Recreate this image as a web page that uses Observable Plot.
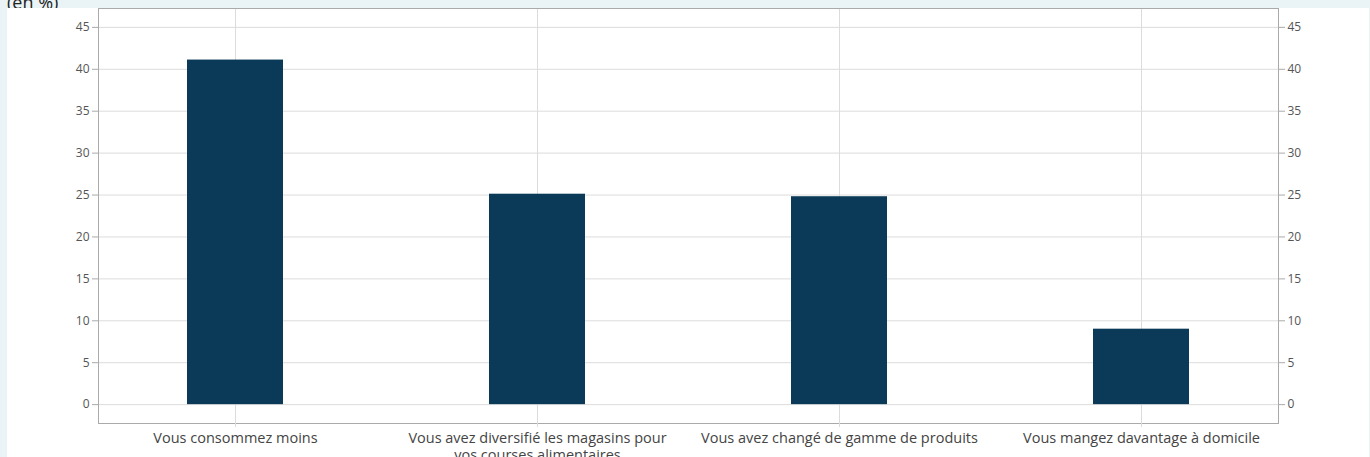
<!DOCTYPE html>
<html>
<head>
<meta charset="utf-8">
<script src="https://cdn.jsdelivr.net/npm/d3@7"></script>
<script src="https://cdn.jsdelivr.net/npm/@observablehq/plot@0.6"></script>
<style>
  html, body { margin: 0; padding: 0; background: #eaf4f7; overflow: hidden; }
  #unit { position: absolute; left: 7px; top: -7px; font: 18px "Open Sans", sans-serif; line-height: 18px; color: #222; }
  #panel { position: absolute; left: 7px; top: 8px; width: 1362px; height: 449px; background: #fff; overflow: hidden; }
</style>
</head>
<body>
<div id="unit">(en %)</div>
<div id="panel"></div>
<script>
const categories = [
  "Vous consommez moins",
  "Vous avez diversifié les magasins pour\nvos courses alimentaires",
  "Vous avez changé de gamme de produits",
  "Vous mangez davantage à domicile"
];
const values = [41.1, 25.1, 24.8, 9.0];
const yTicks = [0, 5, 10, 15, 20, 25, 30, 35, 40, 45];

const data = categories.map((c, i) => ({category: c, value: values[i]}));

const chart = Plot.plot({
  width: 1362,
  height: 449,
  marginLeft: 91,
  marginRight: 91,
  marginTop: 0,
  marginBottom: 34,
  style: {fontFamily: "'Open Sans', sans-serif", background: "transparent"},
  x: {domain: categories, paddingInner: 0.683, paddingOuter: 0.29, label: null},
  y: {domain: [-2.25, 47.25], label: null},
  marks: [
    Plot.gridY(yTicks, {stroke: "#dcdcdc", strokeOpacity: 1, strokeWidth: 1}),
    Plot.gridX({stroke: "#dcdcdc", strokeOpacity: 1, strokeWidth: 1}),
    Plot.barY(data, {x: "category", y: "value", fill: "#0b3a58"}),
    Plot.frame({stroke: "#aaaaaa", strokeWidth: 1}),
    Plot.axisY(yTicks, {anchor: "left", tickSize: 6, tickPadding: 3, stroke: "#aaaaaa", fill: "#555", fontSize: 12, label: null}),
    Plot.axisY(yTicks, {anchor: "right", tickSize: 6, tickPadding: 3, stroke: "#aaaaaa", fill: "#555", fontSize: 12, label: null}),
    Plot.axisX({anchor: "bottom", tickSize: 4, tickPadding: 3, stroke: "#dcdcdc", fill: "#444", fontSize: 14.5, label: null, lineHeight: 1.2})
  ]
});
document.getElementById("panel").appendChild(chart);
</script>
</body>
</html>
